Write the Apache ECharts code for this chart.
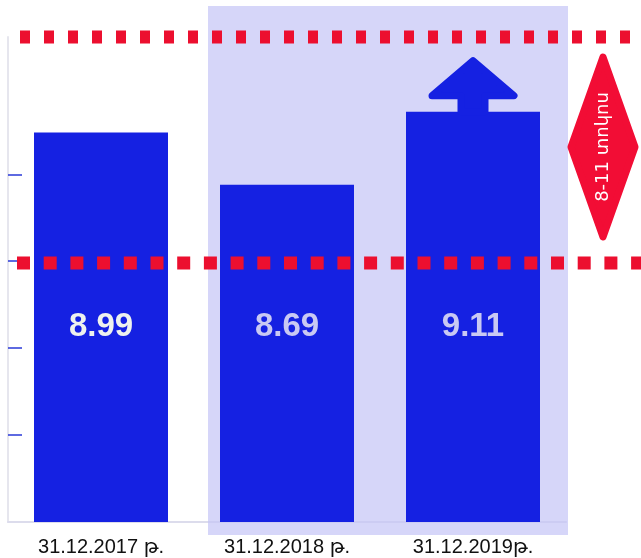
<!DOCTYPE html>
<html>
<head>
<meta charset="utf-8">
<script src="https://cdn.jsdelivr.net/npm/echarts@6/dist/echarts.min.js"></script>
<style>
html, body { margin: 0; padding: 0; background: #fff; }
#main { width: 641px; height: 558px; }
</style>
</head>
<body>
<div id="main"></div>
<script>
// data
var categories = ['31.12.2017 թ.', '31.12.2018 թ.', '31.12.2019թ.'];
var rates = [8.99, 8.69, 9.11];
var labelColors = ['#eef2ee', '#c9c9f3', '#c9c9f3'];
// the two dotted corridor lines (8% and 11%), placed on the stretched axis
var corridor = [8.24, 9.54];
var tickValues = [7.25, 7.75, 8.25, 8.75];
var bandText = '8-11 տոկոս';

var chart = echarts.init(document.getElementById('main'));
chart.setOption({
  animation: false,
  grid: { left: 8, right: 75, top: 37, bottom: 36 },
  xAxis: {
    type: 'category',
    data: categories,
    axisLine: { lineStyle: { color: '#dcdcec', width: 2 } },
    axisTick: { show: false },
    axisLabel: {
      color: '#111',
      fontSize: 20,
      fontFamily: 'Liberation Sans, DejaVu Sans',
      margin: 15
    }
  },
  yAxis: {
    type: 'value',
    min: 6.75,
    max: corridor[1],
    interval: 0.5,
    axisLine: { show: true, lineStyle: { color: '#e6e6ee', width: 2 } },
    axisTick: {
      show: true,
      inside: true,
      length: 14,
      customValues: tickValues,
      lineStyle: { color: '#2a3ad8', width: 1.5 }
    },
    axisLabel: { show: false },
    splitLine: { show: false }
  },
  series: [{
    type: 'bar',
    barWidth: 134,
    z: 3,
    itemStyle: { color: '#1521e2' },
    label: {
      show: true,
      position: 'insideBottom',
      distance: 179,
      fontSize: 33,
      fontWeight: 'bold',
      fontFamily: 'Liberation Sans, Arial'
    },
    data: rates.map(function (v, i) {
      return { value: v, label: { color: labelColors[i] } };
    })
  }]
});

// decorations placed from the axes
function xPx(i) { return chart.convertToPixel({ xAxisIndex: 0 }, i); }
function yPx(v) { return chart.convertToPixel({ yAxisIndex: 0 }, v); }

var tx = xPx(2), ty = yPx(rates[2]);
var yTop = yPx(corridor[1]), yLow = yPx(corridor[0]);
var yBase = yPx(6.75);

chart.setOption({
  graphic: [
    {
      // lavender panel behind the last two bars
      type: 'rect', z: 1,
      shape: { x: xPx(1) - 79, y: yTop - 31, width: xPx(2) + 95 - (xPx(1) - 79), height: yBase + 13 - (yTop - 31) },
      style: { fill: 'rgba(196,196,246,0.7)' }
    },
    {
      type: 'line', z: 10,
      shape: { x1: 20, y1: yTop, x2: 641, y2: yTop },
      style: { stroke: '#ec0f2f', lineWidth: 13, lineDash: [10, 14] }
    },
    {
      type: 'line', z: 10,
      shape: { x1: 17, y1: yLow, x2: 641, y2: yLow },
      style: { stroke: '#ec0f2f', lineWidth: 13, lineDash: [13, 13.7] }
    },
    {
      // up arrow on top of the last bar
      type: 'polygon', z: 6,
      shape: { points: [
        [tx, ty - 51], [tx + 41, ty - 16], [tx + 12, ty - 16], [tx + 12, ty],
        [tx - 12, ty], [tx - 12, ty - 16], [tx - 41, ty - 16]
      ] },
      style: { fill: '#1521e2', stroke: '#1521e2', lineWidth: 7, lineJoin: 'round' }
    },
    {
      type: 'polygon', z: 6,
      shape: { points: [[603, 57], [635, 147], [603, 237], [571, 147]] },
      style: { fill: '#f20d35', stroke: '#f20d35', lineWidth: 7, lineJoin: 'round' }
    },
    {
      type: 'text', z: 7,
      x: 603, y: 147,
      rotation: Math.PI / 2,
      style: {
        text: bandText,
        fill: '#ffffff',
        fontSize: 18,
        fontFamily: 'DejaVu Sans, Liberation Sans',
        align: 'center',
        verticalAlign: 'middle'
      }
    }
  ]
});
</script>
</body>
</html>
